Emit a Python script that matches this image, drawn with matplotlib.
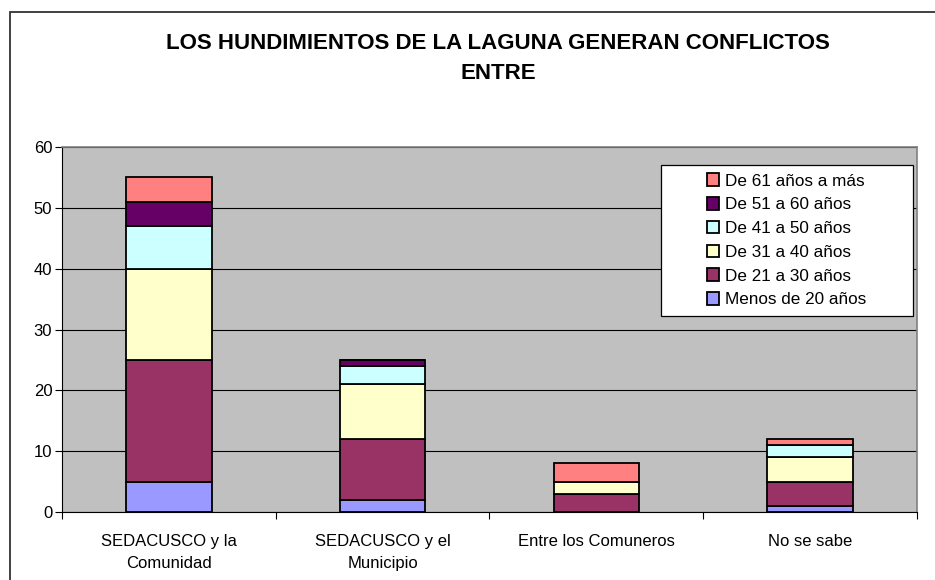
import numpy as np
import matplotlib
matplotlib.use('Agg')
import matplotlib.pyplot as plt
from matplotlib.patches import Rectangle

plt.rcParams['font.family'] = ['Liberation Sans', 'DejaVu Sans']

categorias = ['SEDACUSCO y la\nComunidad', 'SEDACUSCO y el\nMunicipio', 'Entre los Comuneros', 'No se sabe']
menos_20 = [5, 2, 0, 1]
de_21_30 = [20, 10, 3, 4]
de_31_40 = [15, 9, 2, 4]
de_41_50 = [7, 3, 0, 2]
de_51_60 = [4, 1, 0, 0]
de_61_mas = [4, 0, 3, 1]

series = [menos_20, de_21_30, de_31_40, de_41_50, de_51_60, de_61_mas]
nombres = ['Menos de 20 años', 'De 21 a 30 años', 'De 31 a 40 años',
           'De 41 a 50 años', 'De 51 a 60 años', 'De 61 años a más']
colores = ['#9999FF', '#993366', '#FFFFCC', '#CCFFFF', '#660066', '#FF8080']

fig = plt.figure(figsize=(9.35, 5.8), dpi=100)
ax = fig.add_axes([0.0663, 0.1172, 0.9144, 0.6293])
ax.set_facecolor('#C0C0C0')

# marco de la figura
fig.patches.append(Rectangle((10 / 935, -0.1), 1.2, 1.1 - 12 / 580,
                             transform=fig.transFigure, fill=False,
                             edgecolor='#333333', linewidth=1.3))

x = np.arange(len(categorias))
base = np.zeros(len(categorias))
for vals, nom, col in zip(series, nombres, colores):
    ax.bar(x, vals, width=0.4, bottom=base, color=col, edgecolor='black',
           linewidth=1.3, label=nom, zorder=3)
    base = base + np.array(vals)

ax.set_xlim(-0.5, 3.5)
ax.set_ylim(0, 60)
ax.set_yticks(range(0, 61, 10))
ax.yaxis.grid(True, color='black', linewidth=0.8, zorder=0)
ax.set_axisbelow(True)

ax.set_xticks(x)
ax.set_xticklabels(categorias, fontsize=12, linespacing=1.6)
ax.set_xticks(np.arange(-0.5, 4, 1), minor=True)
ax.tick_params(axis='x', which='major', length=0, pad=16)
ax.tick_params(axis='x', which='minor', length=5, width=0.8, direction='out')
ax.tick_params(axis='y', labelsize=12, length=5, width=0.8, pad=2)

for s in ['top', 'right']:
    ax.spines[s].set_color('#808080')
    ax.spines[s].set_linewidth(1.2)
ax.spines['left'].set_linewidth(0.8)
ax.spines['bottom'].set_linewidth(0.8)

fig.text(0.533, 0.899, 'LOS HUNDIMIENTOS DE LA LAGUNA GENERAN CONFLICTOS\nENTRE',
         ha='center', va='center', fontsize=16, fontweight='bold', linespacing=1.6)

# leyenda con caja propia
ax.add_patch(Rectangle((0.7006, 0.537), 0.2947, 0.414, transform=ax.transAxes,
                       facecolor='white', edgecolor='black', linewidth=0.9, zorder=5))
h, l = ax.get_legend_handles_labels()
leg = ax.legend(h[::-1], l[::-1], loc='center left', bbox_to_anchor=(0.754, 0.744),
                frameon=False, fontsize=12.3, handlelength=0.75, handleheight=0.75,
                handletextpad=0.35, labelspacing=0.5, borderpad=0, borderaxespad=0)
leg.set_zorder(6)

fig.savefig('out.png', dpi=100)
